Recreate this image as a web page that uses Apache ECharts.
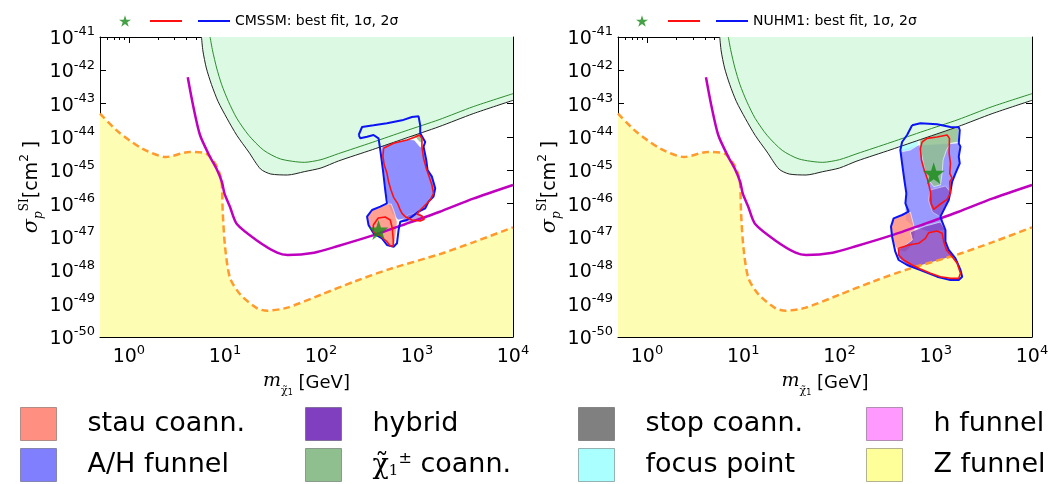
<!DOCTYPE html>
<html>
<head>
<meta charset="utf-8">
<script src="https://cdn.jsdelivr.net/npm/echarts@6/dist/echarts.min.js"></script>
<style>
  html, body { margin: 0; padding: 0; background: #fff; }
  #chart { width: 1063px; height: 484px; }
</style>
</head>
<body>
<div id="chart"></div>
<script>
// x: neutralino mass [GeV], y: log10(sigma_p^SI / cm^2)
const xMajor = [1, 10, 100, 1000, 10000]
const yTicks = [-50, -49, -48, -47, -46, -45, -44, -43, -42, -41]

// limit curves (same in both panels)
const limitBlack = [[5.7, -41.0], [5.9, -41.42], [6.4, -41.93], [7.25, -42.43], [8.5, -42.94], [10.5, -43.44], [13.3, -43.95], [17.7, -44.45], [23.5, -44.96], [30, -45.11], [45, -45.14], [67, -45.04], [100, -44.93], [152, -44.72], [343, -44.38], [755, -44.04], [1700, -43.69], [3850, -43.30], [10000, -42.9]]
const limitGreen = [[7.0, -41.0], [7.45, -41.42], [8.2, -41.93], [9.25, -42.43], [10.9, -42.94], [13.3, -43.44], [17.7, -43.95], [25.4, -44.40], [38, -44.66], [67, -44.76], [100, -44.68], [152, -44.50], [343, -44.16], [755, -43.82], [1700, -43.48], [3850, -43.09], [10000, -42.70]]
const limitMagenta = [[4.1, -42.21], [4.65, -43.04], [5.5, -43.94], [7.0, -44.6], [8.2, -44.96], [9.3, -45.35], [9.9, -45.7], [11.3, -46.1], [13.3, -46.61], [21.7, -47.11], [35, -47.47], [45, -47.54], [85, -47.47], [151, -47.27], [340, -46.96], [760, -46.61], [1700, -46.25], [3850, -45.85], [10000, -45.44]]
const nuFloor = [[0.5, -43.3], [0.78, -43.85], [1.38, -44.35], [2.43, -44.6], [4.27, -44.45], [6.4, -44.5], [8.15, -44.86], [9.2, -45.3], [9.5, -46.3], [10.05, -47.32], [11.3, -48.23], [14.5, -48.73], [21.7, -49.14], [27.6, -49.21], [44.7, -49.12], [100, -48.73], [226, -48.33], [508, -47.97], [1700, -47.52], [3850, -47.16], [10000, -46.71]]

// CMSSM (left)
const blueL = [[247, -43.94], [268, -43.70], [353, -43.65], [487, -43.59], [698, -43.50], [887, -43.40], [1039, -43.38], [1081, -43.65], [1081, -43.89], [1219, -44.15], [1171, -44.29], [1249, -44.69], [1288, -44.99], [1431, -45.19], [1549, -45.54], [1487, -45.79], [1320, -45.94], [1219, -46.14], [1039, -46.24], [887, -46.39], [786, -46.49], [670, -46.54], [643, -46.79], [619, -47.19], [571, -47.29], [487, -47.24], [432, -47.04], [353, -46.89], [313, -46.64], [302, -46.39], [340, -46.19], [415, -46.09], [487, -45.99], [467, -45.59], [442, -44.99], [415, -44.39], [398, -44.04], [353, -43.94], [302, -43.99], [257, -44.04], [247, -43.94]]
const redL1 = [[449, -44.34], [571, -44.19], [786, -44.09], [959, -44.00], [1064, -43.94], [1126, -44.04], [1126, -44.29], [1171, -44.64], [1249, -44.94], [1320, -45.14], [1431, -45.44], [1487, -45.69], [1374, -45.89], [1219, -46.04], [1081, -46.19], [999, -46.31], [1126, -46.37], [1191, -46.47], [1081, -46.52], [887, -46.49], [755, -46.39], [698, -46.29], [658, -46.14], [628, -45.99], [571, -45.81], [536, -45.59], [506, -45.34], [487, -45.09], [456, -44.84], [442, -44.59], [449, -44.34]]
const redL2 = [[351, -46.64], [395, -46.43], [467, -46.40], [527, -46.49], [553, -46.73], [566, -47.09], [566, -47.27], [527, -47.27], [479, -47.12], [415, -46.97], [351, -46.85], [351, -46.64]]
const ahL = [[435, -44.21], [553, -44.15], [755, -44.06], [937, -44.09], [1081, -44.30], [1191, -44.30], [1249, -44.69], [1288, -44.99], [1431, -45.19], [1549, -45.54], [1487, -45.79], [1320, -45.94], [1219, -46.14], [1039, -46.24], [887, -46.39], [737, -46.46], [638, -46.49], [553, -46.31], [502, -46.04], [467, -45.59], [446, -44.99], [425, -44.54]]
const focusL = [[398, -43.70], [527, -43.61], [619, -43.74], [725, -43.89], [817, -44.01], [786, -44.07], [571, -44.15], [449, -44.19], [408, -44.19]]
const charL = [[527, -43.61], [725, -43.55], [887, -43.41], [1039, -43.37], [1100, -43.65], [1108, -43.94], [1154, -44.19], [1064, -44.15], [959, -44.00], [817, -44.01], [725, -43.89], [619, -43.74]]
const stauL = [[304, -46.37], [342, -46.19], [415, -46.10], [491, -46.01], [540, -46.01], [580, -46.25], [623, -46.55], [608, -46.85], [580, -47.27], [502, -47.24], [435, -47.03], [359, -46.88], [311, -46.67]]
const hybridL = [[670, -46.52], [811, -46.34], [1031, -46.25], [1162, -46.37], [1031, -46.52], [755, -46.55]]
const bestL = [[398, -46.79]]

// NUHM1 (right)
const blueR = [[568, -43.65], [693, -43.59], [1033, -43.62], [1421, -43.70], [1734, -43.71], [1776, -43.79], [1734, -44.19], [1806, -44.29], [1734, -44.59], [1776, -44.79], [1602, -45.09], [1481, -45.34], [1421, -45.64], [1365, -45.89], [1261, -46.09], [1119, -46.39], [1165, -46.54], [1261, -46.79], [1261, -47.14], [1365, -47.39], [1602, -47.64], [1806, -47.99], [1882, -48.19], [1734, -48.29], [1421, -48.29], [1033, -48.19], [693, -47.99], [504, -47.84], [412, -47.69], [380, -47.44], [352, -46.99], [343, -46.69], [365, -46.44], [447, -46.34], [523, -46.24], [484, -45.99], [495, -45.69], [472, -45.29], [447, -44.79], [429, -44.39], [447, -44.15], [504, -43.94], [568, -43.65]]
const redR1 = [[721, -44.15], [813, -44.04], [1033, -44.00], [1313, -43.94], [1388, -44.04], [1378, -44.49], [1421, -44.79], [1398, -45.09], [1481, -45.24], [1398, -45.34], [1421, -45.69], [1313, -45.87], [1119, -46.01], [952, -46.17], [895, -45.99], [880, -45.64], [825, -45.29], [750, -44.94], [710, -44.69], [693, -44.34], [721, -44.15]]
const redR2 = [[412, -47.34], [523, -47.24], [665, -47.19], [781, -47.04], [845, -46.87], [1033, -46.82], [1165, -46.89], [1211, -47.14], [1292, -47.39], [1481, -47.59], [1669, -47.79], [1806, -48.09], [1734, -48.24], [1421, -48.24], [1119, -48.19], [880, -48.09], [693, -47.96], [568, -47.84], [464, -47.69], [412, -47.54], [412, -47.34]]
const ahR = [[429, -44.39], [660, -44.24], [1722, -44.18], [1806, -44.29], [1734, -44.59], [1776, -44.79], [1602, -45.09], [1481, -45.34], [1421, -45.64], [1365, -45.89], [1261, -46.09], [1119, -46.39], [1165, -46.54], [1261, -46.79], [880, -46.85], [614, -46.73], [484, -46.49], [484, -45.99], [495, -45.69], [472, -45.29], [447, -44.79]]
const focusR = [[419, -44.15], [495, -43.97], [645, -43.88], [660, -44.24], [545, -44.39], [429, -44.45]]
const charR = [[665, -43.65], [1033, -43.62], [1421, -43.70], [1734, -43.74], [1734, -44.15], [1421, -44.19], [1292, -44.39], [1193, -44.69], [1165, -45.09], [1119, -45.44], [952, -45.49], [845, -45.29], [762, -44.94], [721, -44.59], [681, -44.19]]
const stauR = [[363, -46.43], [450, -46.34], [545, -46.25], [572, -46.49], [614, -46.85], [572, -47.24], [484, -47.45], [399, -47.39], [354, -47.09], [346, -46.73]]
const hybridR1 = [[545, -46.85], [781, -46.67], [1119, -46.55], [1261, -46.79], [1261, -47.14], [1365, -47.39], [1602, -47.64], [1806, -47.99], [1882, -48.19], [1734, -48.29], [1421, -48.29], [1033, -48.19], [693, -47.99], [504, -47.84], [412, -47.63], [399, -47.39], [484, -47.24], [572, -47.09]]
const hybridR2 = [[880, -45.59], [1261, -45.47], [1421, -45.65], [1355, -45.89], [1261, -46.10], [1119, -46.40], [923, -46.25], [839, -45.89]]
const bestR = [[952, -45.09]]

const regionNames = ['stau coann.', 'A/H funnel', 'hybrid', 'chargino coann.', 'stop coann.', 'focus point', 'h funnel', 'Z funnel']
const regionColors = ['#ff8f80', '#8080ff', '#7f3fbf', '#8fbf8f', '#808080', '#aaffff', '#ff99ff', '#ffff99']

const FONT = 'DejaVu Sans'
const STAR = 'path://M50,2 L61.2,36.3 L97.6,36.3 L68.2,57.6 L79.4,92 L50,70.8 L20.6,92 L31.8,57.6 L2.4,36.3 L38.8,36.3 Z'
const BAR = 'path://M0,0 L32,0 L32,2 L0,2 Z'

const xMinor = []
;[0.1, 1, 10, 100, 1000].forEach(d => {
  for (let k = 2; k <= 9; k++) {
    const v = +(k * d).toPrecision(2)
    if (v > 0.5) xMinor.push(v)
  }
})

const colorOf = name => regionColors[regionNames.indexOf(name)]

const tickRich = {
  b: { fontSize: 19, fontFamily: FONT, color: '#000', verticalAlign: 'bottom' },
  s: { fontSize: 13, fontFamily: FONT, color: '#000', verticalAlign: 'top', padding: [0, 0, 10, 0] }
}
const black = { color: '#000', width: 1 }

function xAxes (g) {
  const base = { type: 'log', logBase: 10, min: 0.5, max: 10000, gridIndex: g, splitLine: { show: false } }
  const line = { show: true, onZero: false, lineStyle: black }
  return [
    Object.assign({}, base, {
      position: 'bottom',
      axisLine: line,
      axisTick: { inside: true, length: 6, customValues: xMajor, lineStyle: black },
      axisLabel: {
        customValues: xMajor,
        margin: 7,
        formatter: v => '{b|10}{s|' + Math.round(Math.log10(v)) + '}',
        rich: tickRich
      },
      name: '{m|m}{c|χ̃}{i|1}{u| [GeV]}',
      nameLocation: 'middle',
      nameGap: 31,
      nameTextStyle: {
        rich: {
          m: { fontSize: 19, fontFamily: 'DejaVu Serif', fontStyle: 'italic', color: '#000', verticalAlign: 'bottom', padding: [0, 0, 6, 0] },
          c: { fontSize: 11, fontFamily: 'DejaVu Serif', color: '#000', verticalAlign: 'bottom' },
          i: { fontSize: 8, fontFamily: FONT, color: '#000', verticalAlign: 'bottom' },
          u: { fontSize: 18, fontFamily: FONT, color: '#000', verticalAlign: 'bottom', padding: [0, 0, 5, 0] }
        }
      }
    }),
    Object.assign({}, base, { position: 'bottom', axisLine: { show: false }, axisTick: { inside: true, length: 3, customValues: xMinor, lineStyle: black }, axisLabel: { show: false } }),
    Object.assign({}, base, { position: 'top', axisLine: line, axisTick: { inside: true, length: 6, customValues: xMajor, lineStyle: black }, axisLabel: { show: false } }),
    Object.assign({}, base, { position: 'top', axisLine: { show: false }, axisTick: { inside: true, length: 3, customValues: xMinor, lineStyle: black }, axisLabel: { show: false } })
  ]
}

function yAxes (g) {
  const base = { type: 'value', min: yTicks[0], max: yTicks[yTicks.length - 1], interval: 1, gridIndex: g, splitLine: { show: false } }
  const line = { show: true, onZero: false, lineStyle: black }
  return [
    Object.assign({}, base, {
      position: 'left',
      axisLine: line,
      axisTick: { inside: true, length: 6, lineStyle: black },
      axisLabel: { margin: 5, formatter: v => '{b|10}{s|' + v + '}', rich: tickRich },
      name: '{g|σ}{p|p}{si|SI}{t|[cm}{e|2}{t| ]}',
      nameLocation: 'middle',
      nameRotate: 90,
      nameGap: 55,
      nameTextStyle: {
        rich: {
          g: { fontSize: 21, fontFamily: 'DejaVu Serif', fontStyle: 'italic', color: '#000', verticalAlign: 'bottom', padding: [0, 0, 3, 0] },
          p: { fontSize: 12, fontFamily: 'DejaVu Serif', fontStyle: 'italic', color: '#000', verticalAlign: 'bottom' },
          si: { fontSize: 12, fontFamily: 'DejaVu Serif', color: '#000', verticalAlign: 'top', padding: [0, 0, 14, 0] },
          t: { fontSize: 19, fontFamily: FONT, color: '#000', verticalAlign: 'bottom', padding: [0, 0, 3, 0] },
          e: { fontSize: 12, fontFamily: FONT, color: '#000', verticalAlign: 'top', padding: [0, 0, 14, 0] }
        }
      }
    }),
    Object.assign({}, base, { position: 'right', axisLine: line, axisTick: { inside: true, length: 6, lineStyle: black }, axisLabel: { show: false } })
  ]
}

function region (name, pts, xi, yi, opacity) {
  return {
    name: name,
    type: 'custom',
    xAxisIndex: xi,
    yAxisIndex: yi,
    clip: true,
    silent: true,
    itemStyle: { color: colorOf(name) },
    data: pts,
    renderItem (params, api) {
      if (params.dataIndex !== 0) return null
      return {
        type: 'polygon',
        shape: { points: pts.map(p => api.coord(p)) },
        style: { fill: colorOf(name), opacity: opacity, stroke: 'rgba(255,255,255,0.9)', lineWidth: 0.8 }
      }
    }
  }
}

function contour (name, pts, color, width, xi, yi) {
  return {
    name: name, type: 'line', xAxisIndex: xi, yAxisIndex: yi, data: pts,
    symbol: 'none', silent: true, z: 3,
    itemStyle: { color: color },
    lineStyle: { color: color, width: width }
  }
}

function panelSeries (p, fills, reds, blue, best) {
  const xi = p * 4
  const yi = p * 2
  const s = [
    {
      name: 'neutrino floor', type: 'line', xAxisIndex: xi, yAxisIndex: yi, data: nuFloor,
      symbol: 'none', silent: true, smooth: 0.25,
      lineStyle: { color: '#ff9a2e', width: 2.5, type: [7, 4] },
      areaStyle: { color: '#fdfdb3', opacity: 1, origin: 'start' }
    },
    {
      name: 'excluded', type: 'line', xAxisIndex: xi, yAxisIndex: yi, data: limitBlack,
      symbol: 'none', silent: true, smooth: 0.25,
      lineStyle: { color: '#222', width: 1 },
      areaStyle: { color: '#dbf9e3', opacity: 1, origin: 'end' }
    },
    {
      name: 'green limit', type: 'line', xAxisIndex: xi, yAxisIndex: yi, data: limitGreen,
      symbol: 'none', silent: true, smooth: 0.25, lineStyle: { color: '#2e8b2e', width: 1 }
    },
    {
      name: 'magenta limit', type: 'line', xAxisIndex: xi, yAxisIndex: yi, data: limitMagenta,
      symbol: 'none', silent: true, smooth: 0.25, lineStyle: { color: '#bf00bf', width: 2.5 }
    }
  ]
  fills.forEach(f => s.push(region(f[0], f[1], xi, yi, f[2])))
  s.push(contour('2σ', blue, '#0a14f5', 2, xi, yi))
  reds.forEach(r => s.push(contour('1σ', r, '#ff1010', 1.6, xi, yi)))
  s.push({
    name: 'best fit', type: 'scatter', xAxisIndex: xi, yAxisIndex: yi, data: best,
    symbol: STAR, symbolSize: p === 0 ? 20 : 22, silent: true, z: 4,
    itemStyle: { color: '#178a17' }
  })
  // legend-only entries
  ;['stop coann.', 'h funnel', 'Z funnel'].forEach(n => s.push(region(n, [], xi, yi, 1)))
  return s
}

const legendText = {
  'chargino coann.': '{g|}{c|χ̃}{sb|1}{sp|±}{t| coann.}'
}
const bottomRich = {
  g: { width: 26 },
  t: { fontSize: 27, fontFamily: FONT, color: '#000' },
  c: { fontSize: 27, fontFamily: 'DejaVu Serif', color: '#000', verticalAlign: 'bottom' },
  sb: { fontSize: 15, fontFamily: 'DejaVu Serif', color: '#000', verticalAlign: 'bottom', padding: [8, 0, 0, 0] },
  sp: { fontSize: 16, fontFamily: FONT, color: '#000', verticalAlign: 'top', padding: [0, 0, 12, 0] }
}
function bottomLegend (names, left) {
  return {
    data: names, left: left, top: 407, orient: 'vertical', padding: 0,
    icon: 'rect', itemWidth: 36, itemHeight: 33, itemGap: 7,
    selectedMode: false,
    itemStyle: { borderColor: 'rgba(0,0,0,0.3)', borderWidth: 1 },
    formatter: n => legendText[n] || '{g|}{t|' + n + '}',
    textStyle: { rich: bottomRich }
  }
}
function topLegends (model, starLeft, lineLeft) {
  return [
    { data: ['best fit'], left: starLeft, top: 15, padding: 0, itemWidth: 12, itemHeight: 12, selectedMode: false, formatter: () => '' },
    {
      data: [{ name: '1σ', icon: BAR }, { name: '2σ', icon: BAR }],
      left: lineLeft, top: 14, padding: 0, itemWidth: 32, itemHeight: 14, itemGap: 16,
      selectedMode: false,
      formatter: n => n === '2σ' ? model + ': best fit, 1σ, 2σ' : '',
      textStyle: { fontSize: 14, fontFamily: FONT, color: '#000' }
    }
  ]
}

const chart = echarts.init(document.getElementById('chart'))
chart.setOption({
  animation: false,
  backgroundColor: '#fff',
  textStyle: { fontFamily: FONT },
  grid: [
    { left: 100, top: 37, width: 413, height: 300 },
    { left: 618, top: 37, width: 414, height: 300 }
  ],
  xAxis: xAxes(0).concat(xAxes(1)),
  yAxis: yAxes(0).concat(yAxes(1)),
  legend: topLegends('CMSSM', 119, 150).concat(topLegends('NUHM1', 636, 668), [
    bottomLegend(['stau coann.', 'A/H funnel'], 20),
    bottomLegend(['hybrid', 'chargino coann.'], 305),
    bottomLegend(['stop coann.', 'focus point'], 578),
    bottomLegend(['h funnel', 'Z funnel'], 866)
  ]),
  series: panelSeries(0, [
    ['A/H funnel', ahL, 0.88],
    ['focus point', focusL, 0.85],
    ['chargino coann.', charL, 0.85],
    ['stau coann.', stauL, 0.85],
    ['hybrid', hybridL, 0.5]
  ], [redL1, redL2], blueL, bestL).concat(panelSeries(1, [
    ['A/H funnel', ahR, 0.8],
    ['focus point', focusR, 0.85],
    ['chargino coann.', charR, 0.85],
    ['stau coann.', stauR, 0.85],
    ['hybrid', hybridR1, 0.8],
    ['hybrid', hybridR2, 0.6]
  ], [redR1, redR2], blueR, bestR))
})
</script>
</body>
</html>
